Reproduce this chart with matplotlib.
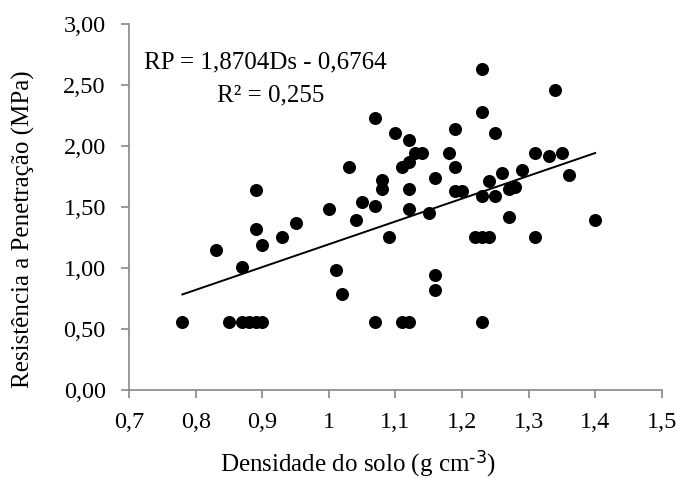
import matplotlib
matplotlib.use("Agg")
import matplotlib.pyplot as plt
import numpy as np

plt.rcParams['font.family'] = ['Liberation Serif', 'DejaVu Serif']
plt.rcParams['mathtext.default'] = 'regular'

# Densidade do solo (g cm-3)
ds = [0.78, 0.83, 0.85, 0.87, 0.87, 0.88, 0.89, 0.90, 0.89, 0.89, 0.90, 0.93,
      0.95, 1.00, 1.03, 1.04, 1.01, 1.02, 1.05, 1.07, 1.07, 1.07, 1.08, 1.08,
      1.09, 1.10, 1.11, 1.11, 1.12, 1.12, 1.12, 1.12, 1.12, 1.13, 1.14, 1.15,
      1.16, 1.16, 1.16, 1.18, 1.19, 1.19, 1.19, 1.20, 1.23, 1.34, 1.23, 1.25,
      1.23, 1.24, 1.25, 1.26, 1.27, 1.28, 1.29, 1.27, 1.31, 1.33, 1.35, 1.36,
      1.40, 1.22, 1.23, 1.24, 1.31, 1.23]
# Resistência a Penetração (MPa)
rp = [0.56, 1.15, 0.56, 1.01, 0.56, 0.56, 0.56, 0.56, 1.64, 1.32, 1.19, 1.25,
      1.37, 1.48, 1.83, 1.39, 0.98, 0.79, 1.54, 2.23, 1.51, 0.56, 1.72, 1.645,
      1.25, 2.11, 1.83, 0.56, 0.56, 2.05, 1.87, 1.645, 1.48, 1.94, 1.94, 1.45,
      1.74, 0.94, 0.82, 1.94, 2.14, 1.83, 1.63, 1.63, 2.63, 2.46, 2.28, 2.11,
      1.59, 1.71, 1.59, 1.78, 1.645, 1.66, 1.80, 1.42, 1.94, 1.92, 1.94, 1.76,
      1.39, 1.25, 1.25, 1.25, 1.25, 0.56]

slope = 1.8704
intercept = -0.6764
x_ticks = [0.7, 0.8, 0.9, 1.0, 1.1, 1.2, 1.3, 1.4, 1.5]
x_tick_labels = ["0,7", "0,8", "0,9", "1", "1,1", "1,2", "1,3", "1,4", "1,5"]
y_ticks = [0.0, 0.5, 1.0, 1.5, 2.0, 2.5, 3.0]
y_tick_labels = ["0,00", "0,50", "1,00", "1,50", "2,00", "2,50", "3,00"]

FS = 18

fig = plt.figure(figsize=(6.76, 4.79), dpi=100)
ax = fig.add_axes([0.191, 0.186, 0.788, 0.764])

ax.scatter(ds, rp, s=88, color='black', zorder=3, linewidths=0)
xl = np.array([min(ds), max(ds)])
ax.plot(xl, slope * xl + intercept, color='black', lw=1.4, zorder=2)

ax.set_xlim(0.7, 1.5)
ax.set_ylim(0, 3.0)
ax.set_xticks(x_ticks)
ax.set_xticklabels(x_tick_labels)
ax.set_yticks(y_ticks)
ax.set_yticklabels(y_tick_labels)

for side in ['top', 'right']:
    ax.spines[side].set_visible(False)
for side in ['left', 'bottom']:
    ax.spines[side].set_color('#888888')
    ax.spines[side].set_linewidth(1.2)
ax.tick_params(axis='both', direction='out', length=5.8, width=1.2, color='#888888',
               labelsize=FS - 0.5, labelcolor='black')
ax.tick_params(axis='x', pad=10)
ax.tick_params(axis='y', pad=11)

fig.text(358 / 676, 8 / 479, r"Densidade do solo (g cm$^{\text{-3}}$)", fontsize=FS,
         ha='center', va='baseline')
fig.text(23 / 676, 1 - 229 / 479, "Resistência a Penetração (MPa)", fontsize=FS,
         ha='center', va='center', rotation=90)

fig.text(144 / 676, 1 - 62 / 479, "RP = 1,8704Ds - 0,6764", fontsize=FS, ha='left', va='center')
fig.text(217 / 676, 1 - 95 / 479, "R² = 0,255", fontsize=FS, ha='left', va='center')

fig.savefig("out.png", dpi=100)
